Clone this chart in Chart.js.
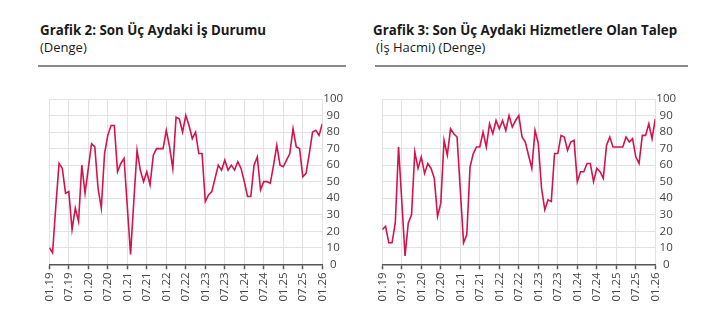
<!DOCTYPE html>
<html>
<head>
<meta charset="utf-8">
<script src="https://cdn.jsdelivr.net/npm/chart.js@4.4.1/dist/chart.umd.min.js"></script>
<style>
  html, body { margin:0; padding:0; background:#fff; }
  body { width:713px; height:332px; position:relative; overflow:hidden; font-family:'Open Sans', sans-serif; color:#1a1a1a; }
  .title { position:absolute; font-weight:700; font-size:13.3px; line-height:16px; white-space:nowrap; }
  .sub { position:absolute; font-size:13px; line-height:16px; white-space:nowrap; }
  .rule { position:absolute; height:1.5px; background:#8a8a8a; }
  .box { position:absolute; }
</style>
</head>
<body>
<div class="title" style="left:40px; top:22px;">Grafik 2: Son Üç Aydaki İş Durumu</div>
<div class="sub" style="left:40px; top:39px;">(Denge)</div>
<div class="rule" style="left:38px; width:308px; top:65px;"></div>

<div class="title" style="left:373px; top:22px;">Grafik 3: Son Üç Aydaki Hizmetlere Olan Talep</div>
<div class="sub" style="left:376px; top:39px;">(İş Hacmi) (Denge)</div>
<div class="rule" style="left:375px; width:313px; top:65px;"></div>

<div class="box" style="left:0px; top:80px; width:356px; height:252px;"><canvas id="c1"></canvas></div>
<div class="box" style="left:356px; top:80px; width:357px; height:252px;"><canvas id="c2"></canvas></div>

<script>
// Month categories: 01.19 ... 01.26 (monthly)
const startYear = 2019, startMonth = 1, monthCount = 85;
const months = [];
for (let k = 0; k < monthCount; k++) {
  const m = (startMonth - 1 + k) % 12 + 1;
  const y = startYear + Math.floor((startMonth - 1 + k) / 12);
  months.push(String(m).padStart(2, '0') + '.' + String(y % 100).padStart(2, '0'));
}

// Grafik 2: Son Üç Aydaki İş Durumu (Denge)
const isDurumu = [10,7,35,61,58,43,44,21,34,26,60,43,58,73,71,46,34,67,78,84,84,56,61,64,35,6,38,69,57,50,56,48,66,70,70,70,81,71,58,89,88,80,90,84,76,80,67,67,38,42,44,52,60,57,63,57,60,57,62,58,50,41,41,60,65,45,50,50,49,60,72,60,59,63,67,82,71,70,53,55,67,80,81,78,85];

// Grafik 3: Son Üç Aydaki Hizmetlere Olan Talep (İş Hacmi) (Denge)
const hizmetTalep = [21,23,13,13,25,71,38,5,25,30,68,58,65,55,61,58,52,29,37,75,66,82,79,77,45,13,18,59,67,71,71,80,71,85,79,87,82,87,81,90,83,87,90,77,74,66,58,81,73,46,33,39,38,67,67,78,77,69,74,75,50,56,56,61,61,50,58,56,52,72,77,71,71,71,71,77,74,76,65,61,78,78,85,76,88];

const yTicks = [0,10,20,30,40,50,60,70,80,90,100];
const xTickStep = 6;

const lineColor = '#d3134d';
const gridColor = '#e2e2e2';
const axisColor = '#555555';
const tickFont = { family: "'Open Sans', sans-serif", size: 11.5 };

function makeChart(id, data, padLeft, yWidth) {
  const pts = data.map((v, i) => ({ x: i, y: v }));
  return new Chart(document.getElementById(id), {
    type: 'line',
    data: { datasets: [{ data: pts, borderColor: lineColor, borderWidth: 1.6, pointRadius: 0, tension: 0, fill: false }] },
    options: {
      responsive: true, maintainAspectRatio: false, animation: false,
      layout: { padding: { left: padLeft, top: 19, right: 0, bottom: 0 } },
      plugins: { legend: { display: false }, tooltip: { enabled: false } },
      scales: {
        x: {
          type: 'linear', min: 0, max: monthCount - 1,
          afterBuildTicks: s => { s.ticks = []; for (let v = 0; v < monthCount; v += xTickStep) s.ticks.push({ value: v }); },
          afterFit: s => { s.height = 67.7; },
          grid: { color: gridColor, lineWidth: 1, drawTicks: true, tickLength: 5, tickColor: axisColor, tickWidth: 1.5 },
          border: { display: true, color: axisColor, width: 1.5 },
          ticks: { autoSkip: false, minRotation: 90, maxRotation: 90, padding: 3, color: '#444', font: tickFont,
                   callback: v => months[v] }
        },
        y: {
          position: 'right', min: 0, max: 100,
          afterBuildTicks: s => { s.ticks = yTicks.map(v => ({ value: v })); },
          afterFit: s => { s.width = yWidth; },
          grid: { color: gridColor, lineWidth: 1, drawTicks: false },
          border: { display: false },
          ticks: { autoSkip: false, padding: 1, crossAlign: 'center', color: '#444', font: tickFont }
        }
      }
    }
  });
}

makeChart('c1', isDurumu, 49.3, 33.7);
makeChart('c2', hizmetTalep, 26.3, 57.7);
</script>
</body>
</html>
